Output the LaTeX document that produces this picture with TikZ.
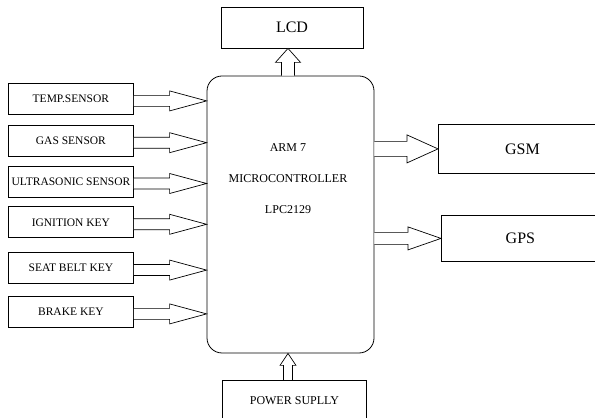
\documentclass[tikz,border=0pt]{standalone}
\usepackage{fontspec}
\setmainfont{Liberation Serif}
\usetikzlibrary{positioning,calc}

\tikzset{fatarr/.style={draw,fill=white,line width=0.7pt,line join=miter}}
% block arrow: tail, tip, half shaft, half head, head length
\newcommand{\bigarrow}[5]{%
  \draw[fatarr] let \p1=(#1), \p2=(#2),
      \n1={atan2(\y2-\y1,\x2-\x1)}, \n2={veclen(\x2-\x1,\y2-\y1)} in
    [shift={(\p1)},rotate=\n1]
    (0,-#3) -- (\n2-#5,-#3) -- (\n2-#5,-#4) -- (\n2,0)
    -- (\n2-#5,#4) -- (\n2-#5,#3) -- (0,#3);
}

\begin{document}
\begin{tikzpicture}[x=1pt,y=1pt,node distance=10pt,
    inbox/.style={draw,line width=0.8pt,minimum width=125pt,minimum height=31pt,inner sep=0pt,font=\fontsize{11.5}{13}\selectfont},
    outbox/.style={draw,line width=0.8pt,inner sep=0pt,font=\fontsize{16}{18}\selectfont}]
  \clip (0,0) rectangle (595,418);
  % controller
  \node[draw,line width=0.8pt,rounded corners=15pt,minimum width=167pt,minimum height=277pt] (cpu) at (290.5,203.5) {};
  \node[align=center,font=\fontsize{12}{14}\selectfont] (cputxt) at (288,239) {ARM 7\\[17pt]MICROCONTROLLER\\[17pt]LPC2129};

  % inputs
  \node[inbox,anchor=north west] (temp) at (8,335) {TEMP.SENSOR};
  \node[inbox,below=10pt of temp] (gas) {GAS SENSOR};
  \node[inbox,below=9pt of gas] (ultra) {ULTRASONIC SENSOR};
  \node[inbox,below=9pt of ultra] (ign) {IGNITION KEY};
  \node[inbox,below=14pt of ign] (belt) {SEAT BELT KEY};
  \node[inbox,below=12pt of belt] (brake) {BRAKE KEY};

  % outputs
  \node[outbox,minimum width=142pt,minimum height=41pt] (lcd) at (292,390.5) {LCD};
  \node[outbox,minimum width=168pt,minimum height=49pt,anchor=north west] (gsm) at (438,294) {GSM};
  \node[outbox,minimum width=158pt,minimum height=46pt,anchor=north west] (gps) at (441,203) {GPS};
  \node[outbox,minimum width=144pt,minimum height=40pt,anchor=north west,font=\fontsize{12}{14}\selectfont] (pwr) at (222,38) {POWER SUPLLY};

  \foreach \s in {temp,gas,ultra,ign,belt,brake}
    {\bigarrow{$(\s.east)+(0,-2)$}{$(\s.east -| cpu.west)+(0,-2)$}{5.5}{10}{37}}
  \bigarrow{gsm.west -| cpu.east}{gsm.west}{7.5}{14}{31}
  \bigarrow{gps.west -| cpu.east}{gps.west}{6}{11.5}{33}
  \bigarrow{cputxt |- cpu.north}{cputxt |- lcd.south}{6.5}{12.5}{14}
  \bigarrow{cputxt |- pwr.north}{cputxt |- cpu.south}{4.5}{8}{12}
\end{tikzpicture}
\end{document}
